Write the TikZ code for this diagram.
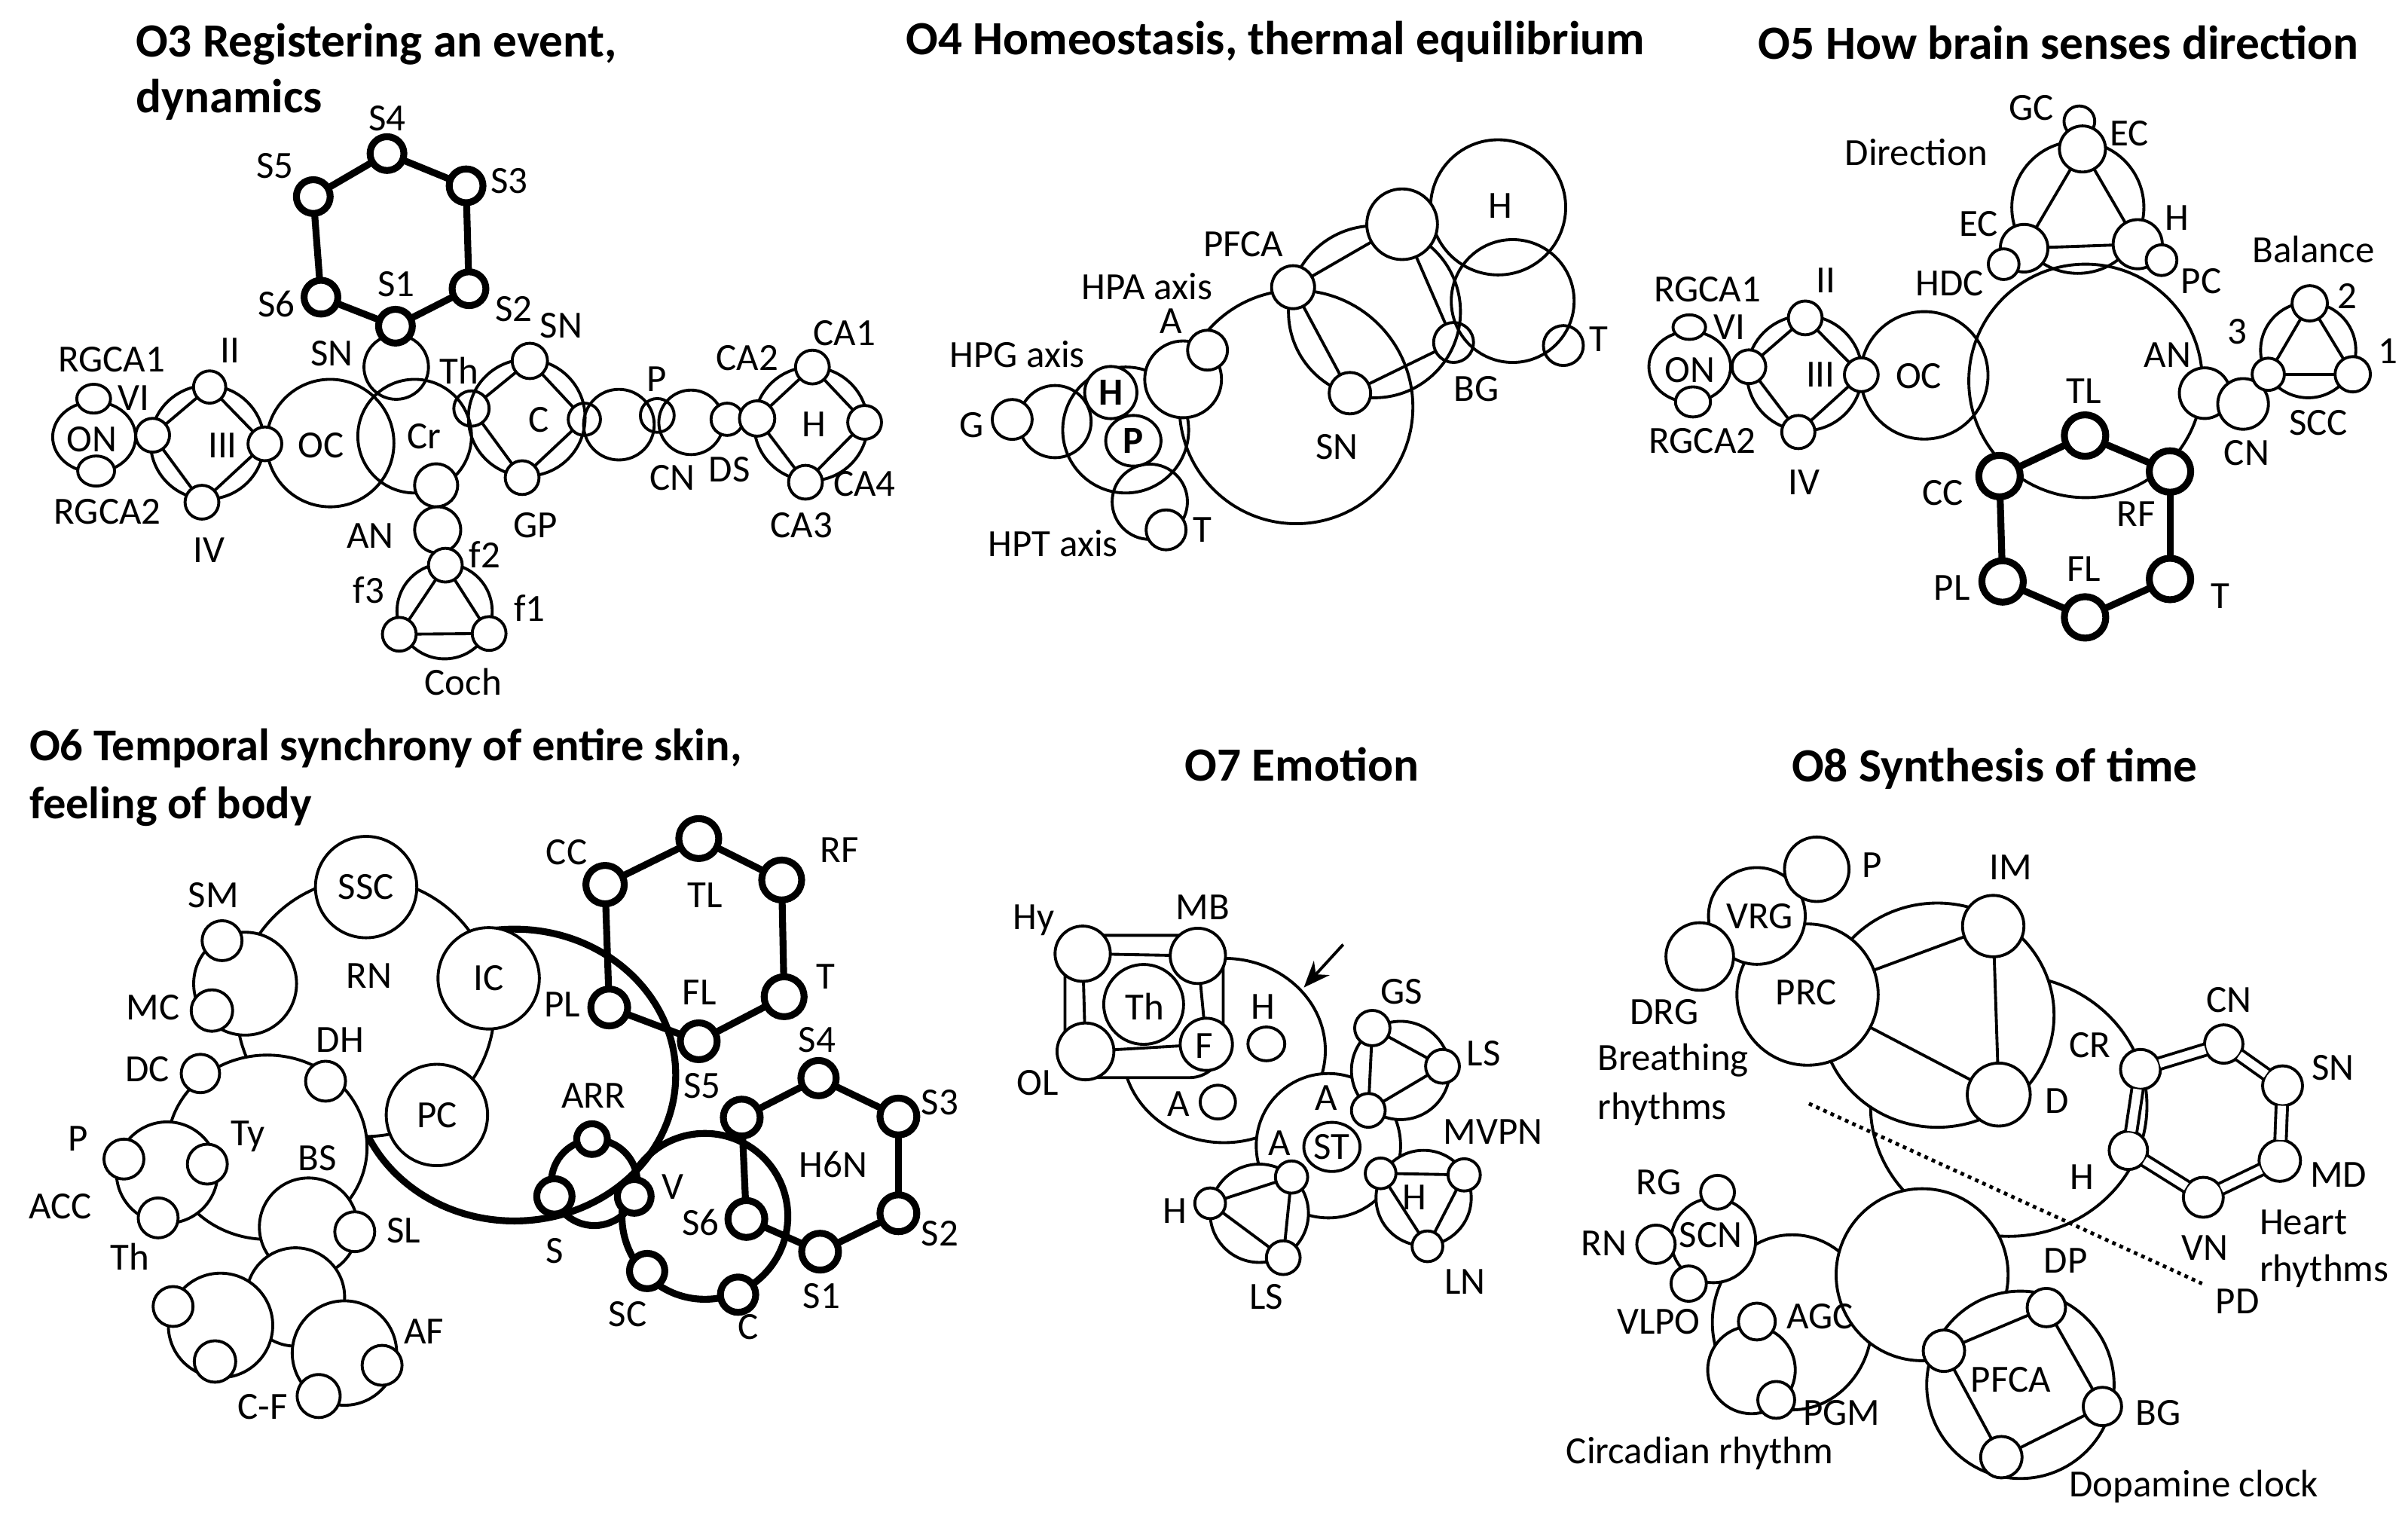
\documentclass[tikz,border=0pt]{standalone}
\usepackage{fontspec}
\setmainfont{Carlito}
\usetikzlibrary{shapes.geometric,arrows.meta}
\newdimen\ulen \ulen=0.20383mm
\tikzset{
  ln/.style={line width=1.1pt},
  bd/.style={line width=2.6pt},
  op/.style={fill=none},
  nd/.style={circle,draw,ln,fill=white,inner sep=0pt,outer sep=0pt},
  nde/.style={ellipse,draw,ln,fill=white,inner sep=0pt,outer sep=0pt},
  lab/.style={font=\fontsize{14.5}{16}\selectfont,inner sep=0pt},
  ttl/.style={font=\bfseries\fontsize{18}{21}\selectfont,inner sep=0pt},
  dbl/.style={ln,double,double distance=3.2pt},
}
\newcommand\Cn[5][]{\node[nd,minimum size={2*(#5)*\ulen},#1] (#2) at (#3,#4) {};}
\newcommand\En[6][]{\node[nde,minimum width={2*(#5)*\ulen},minimum height={2*(#6)*\ulen},#1] (#2) at (#3,#4) {};}
\newcounter{lbc}
\newcommand\Lb[4][]{\stepcounter{lbc}\node[lab,#1] (lb\arabic{lbc}) at (#2,#3) {#4};}
\newcommand\Ed[3][]{\draw[ln,#1] (#2) -- (#3);}
\begin{document}
\begin{tikzpicture}[x=0.20383mm,y=-0.20383mm]
\fill[white] (0,0) rectangle (1568,989);
\useasboundingbox (0,0) rectangle (1568,989);
% ================= O3
\node[ttl,anchor=west] (t3a) at (88,29) {O3 Registering an event,};
\node[ttl,anchor=west] (t3b) at (88,65) {dynamics};
\Cn[op]{o3oc}{215}{288.5}{41.5}
\Cn[op]{o3cr}{270}{284}{37}
\Cn[op]{o3sn}{258}{239}{21}
\Cn[op]{o3ra}{135}{288}{37}
\En[op]{o3on}{61.3}{284.5}{27}{23}
\Cn[op]{o3rc}{343}{272}{38}
\Cn[op]{o3em}{403}{276.5}{23}
\Cn[op]{o3cn}{450}{275}{21}
\Cn[op]{o3rh}{528}{276}{37}
\Cn[op]{o3rf}{289.5}{398}{31}
\Cn{o3an1}{284}{316}{14}
\Cn{o3an2}{285}{345}{15}
\En{o3ont}{61}{259.6}{11}{9.4}
\En{o3onb}{62.6}{306.7}{12}{9.8}
\Cn{o3vi}{99.4}{283.4}{11}
\Cn{o3ii}{136.5}{252}{10.5}
\Cn{o3iv}{131.5}{327}{11}
\Cn{o3iii}{172.5}{289}{11}
\Cn[op]{o3th}{307}{266}{11.5}
\Cn{o3csn}{345}{235}{11.5}
\Cn{o3gp}{340}{311}{11}
\Cn[op]{o3cc}{380.5}{273}{10.5}
\Cn[op]{o3p}{428}{270.5}{11}
\Cn{o3ds}{473.5}{273}{10.5}
\Cn{o3hl}{493}{272.5}{11.5}
\Cn{o3ca1}{529}{239}{11}
\Cn{o3ca3}{524.5}{314}{11}
\Cn{o3ca4}{563}{275}{11}
\Cn{o3f2}{290}{368}{11}
\Cn{o3f3}{260}{413}{11}
\Cn{o3f1}{318.5}{412.5}{11}
\Cn[bd]{o3s1}{257.5}{212.4}{11}
\Cn[bd]{o3s2}{305.4}{188}{11}
\Cn[bd]{o3s3}{303.5}{121}{11}
\Cn[bd]{o3s4}{252}{100}{11}
\Cn[bd]{o3s5}{204}{128}{11}
\Cn[bd]{o3s6}{209}{193.5}{11}
\Ed{o3vi}{o3ii}\Ed{o3ii}{o3iii}\Ed{o3iii}{o3iv}\Ed{o3iv}{o3vi}
\Ed{o3th}{o3csn}\Ed{o3csn}{o3cc}\Ed{o3cc}{o3gp}\Ed{o3gp}{o3th}
\Ed{o3hl}{o3ca1}\Ed{o3ca1}{o3ca4}\Ed{o3ca4}{o3ca3}\Ed{o3ca3}{o3hl}
\Ed{o3f2}{o3f3}\Ed{o3f2}{o3f1}\Ed{o3f3}{o3f1}
\Ed[bd]{o3s1}{o3s2}\Ed[bd]{o3s2}{o3s3}\Ed[bd]{o3s3}{o3s4}\Ed[bd]{o3s4}{o3s5}\Ed[bd]{o3s5}{o3s6}\Ed[bd]{o3s6}{o3s1}
\Lb{252}{77}{S4}\Lb{179}{108}{S5}\Lb{331.7}{118}{S3}\Lb{180}{198}{S6}\Lb{258}{185}{S1}\Lb{334.5}{201}{S2}
\Lb{216}{230}{SN}\Lb{298.8}{241.5}{Th}\Lb{365.5}{212}{SN}\Lb{150}{228}{II}\Lb{87}{259}{VI}
\Lb{72.8}{234}{RGCA1}\Lb{59.7}{286.2}{ON}\Lb{70}{333}{RGCA2}\Lb{145}{290}{III}\Lb{136}{358}{IV}
\Lb{209}{290}{OC}\Lb{276}{284}{Cr}\Lb{351}{273.5}{C}\Lb{348.6}{342}{GP}\Lb{427.4}{247}{P}
\Lb{437.8}{311}{CN}\Lb{475}{305.5}{DS}\Lb{486.6}{233}{CA2}\Lb{550}{217}{CA1}\Lb{530}{276.5}{H}
\Lb{522}{342}{CA3}\Lb{563}{315}{CA4}\Lb{241}{349}{AN}\Lb{315.7}{361}{f2}\Lb{240}{384}{f3}\Lb{344.8}{396}{f1}\Lb{301.6}{444}{Coch}
% ================= O4
\node[ttl] (t4) at (830.5,27) {O4 Homeostasis, thermal equilibrium};
\Cn[op]{o4sn}{844}{265}{76}
\Cn[op]{o4hp}{733}{280}{41}
\Cn[op]{o4gc}{687}{274.5}{23.5}
\Cn[op]{o4hpt}{748.7}{326.7}{24.5}
\Cn[op]{o4ring}{895}{203}{56}
\Cn[op]{o4H}{975.5}{135}{44}
\Cn[op]{o4tc}{985}{196}{40}
\Cn{o4ac}{770.4}{247}{25}
\Cn{o4a}{786.3}{228}{13}
\Cn{o4h}{723.3}{255.6}{17}
\En{o4p}{738}{287}{18}{16.5}
\Cn{o4g}{659.1}{273.1}{13}
\Cn{o4t2}{759.3}{345}{13}
\Cn{o4pf}{842}{187}{14}
\Cn{o4top}{913}{146}{23}
\Cn[op]{o4bg}{946.5}{223}{13}
\Cn{o4snb}{879}{256}{13.5}
\Cn[op]{o4t}{1018}{225}{13}
\Ed{o4pf}{o4top}\Ed{o4top}{o4bg}\Ed{o4bg}{o4snb}\Ed{o4snb}{o4pf}
\Lb{977}{134}{H}\Lb{1041}{221}{T}\Lb{961.3}{253}{BG}\Lb{809.5}{159}{PFCA}\Lb{870.5}{291}{SN}
\Lb{762.5}{209}{A}\Lb{746.9}{186.7}{HPA axis}\Lb{662.4}{230.7}{HPG axis}\Lb{632.6}{277}{G}
\Lb{782.9}{345}{T}\Lb{685.8}{354}{HPT axis}
\Lb[font=\bfseries\fontsize{14.5}{16}\selectfont]{723.3}{255.6}{H}
\Lb[font=\bfseries\fontsize{14.5}{16}\selectfont]{738}{287}{P}
% ================= O5
\node[ttl] (t5) at (1340.5,27.5) {O5 How brain senses direction};
\Cn[op]{o5big}{1358}{248}{76}
\Cn[op]{o5oc}{1253}{244.4}{41.5}
\Cn[op]{o5ring}{1175}{243}{37.5}
\En[op]{o5on}{1100.3}{238.8}{26.6}{23}
\Cn[op]{o5tri}{1353}{135}{43}
\Cn[op]{o5bal}{1503}{228}{31}
\Cn{o5gc}{1354}{79}{10}
\Cn{o5ect}{1356}{97}{15}
\Cn{o5ecl}{1318}{161.6}{15.5}
\Cn{o5hdc}{1304.7}{172}{10}
\Cn{o5h}{1392}{159}{16}
\Cn{o5pc}{1407.5}{169.4}{10}
\Cn{o5ii}{1175.5}{207}{11}
\Cn{o5iii}{1212}{244}{11}
\Cn{o5iv}{1171}{281.3}{10.8}
\Cn{o5vi}{1138.8}{238.8}{11}
\En{o5ont}{1100}{213}{10.6}{8}
\En{o5onb}{1102.4}{261.7}{11.4}{9.8}
\Cn{o5an}{1435.6}{256}{16.5}
\Cn{o5cn}{1460.6}{263}{16.5}
\Cn{o5n3}{1477}{243.7}{10.5}
\Cn{o5n2}{1504}{197.5}{11.5}
\Cn{o5n1}{1532}{243.7}{11.5}
\Cn[bd]{o5tl}{1357.7}{283.6}{13.5}
\Cn[bd]{o5cc}{1302}{310}{13.5}
\Cn[bd]{o5rf}{1413}{307}{13.5}
\Cn[bd]{o5pl}{1304}{378.6}{13.5}
\Cn[bd]{o5t}{1413}{377}{13.5}
\Cn[bd]{o5fl}{1357.7}{402}{13.5}
\Ed{o5ect}{o5ecl}\Ed{o5ect}{o5h}\Ed{o5ecl}{o5h}
\Ed{o5vi}{o5ii}\Ed{o5ii}{o5iii}\Ed{o5iii}{o5iv}\Ed{o5iv}{o5vi}
\Ed{o5n3}{o5n2}\Ed{o5n2}{o5n1}\Ed{o5n3}{o5n1}
\Ed[bd]{o5cc}{o5tl}\Ed[bd]{o5tl}{o5rf}\Ed[bd]{o5rf}{o5t}\Ed[bd]{o5t}{o5fl}\Ed[bd]{o5fl}{o5pl}\Ed[bd]{o5pl}{o5cc}
\Lb{1322.6}{70}{GC}\Lb{1386.5}{86.8}{EC}\Lb{1247.8}{99}{Direction}\Lb{1288.3}{146}{EC}\Lb{1269.6}{184.5}{HDC}
\Lb{1417.7}{141.8}{H}\Lb{1433.3}{183}{PC}\Lb{1249.4}{245}{OC}\Lb{1189}{182.7}{II}\Lb{1185.5}{243.7}{III}
\Lb{1174.6}{314}{IV}\Lb{1126}{213}{VI}\Lb{1100.3}{241}{ON}\Lb{1111.8}{188.5}{RGCA1}\Lb{1108.5}{287}{RGCA2}
\Lb{1411.5}{231}{AN}\Lb{1463}{294.7}{CN}\Lb{1456.7}{216}{3}\Lb{1528.4}{192.8}{2}\Lb{1554.8}{228.6}{1}
\Lb{1506.5}{162.5}{Balance}\Lb{1509.6}{275.4}{SCC}\Lb{1357}{254.7}{TL}\Lb{1265}{321}{CC}\Lb{1391}{334.6}{RF}
\Lb{1271}{382.8}{PL}\Lb{1445.7}{388.3}{T}\Lb{1357}{370.4}{FL}
% ================= O6
\node[ttl,anchor=west,font=\bfseries\fontsize{17.2}{20}\selectfont] (t6a) at (18.8,487) {O6 Temporal synchrony of entire skin,};
\node[ttl,anchor=west,font=\bfseries\fontsize{17.2}{20}\selectfont] (t6b) at (18.8,525) {feeling of body};
\En[op,bd]{o6arc}{335}{700}{105}{95}
\Cn{o6rn}{238}{656}{84}
\Cn{o6ssc}{238.4}{577.6}{33}
\Cn{o6ic}{318.2}{637}{33}
\Cn{o6pc}{284.5}{726}{33}
\Cn{o6smc}{159.6}{640.5}{33.5}
\Cn{o6sm}{144.6}{612.5}{13}
\Cn{o6mc}{138}{658}{13.5}
\En{o6bs}{174}{747}{65}{60}
\Cn{o6dc}{130.5}{699}{12.5}
\Cn{o6dh}{212}{704}{13}
\Cn{o6acc}{108.8}{763.5}{33}
\Cn{o6p}{80.7}{754.7}{13}
\Cn{o6ty}{135}{758}{13}
\Cn{o6th}{103}{793}{13}
\Cn{o6slc}{200.9}{799}{32}
\Cn{o6mid}{192.4}{844.5}{32}
\Cn{o6sl}{231}{802}{13}
\Cn{o6lb}{143.6}{863}{34}
\Cn{o6lb1}{112.7}{850.7}{13}
\Cn{o6lb2}{140}{886.5}{13.5}
\Cn{o6afc}{224.3}{881}{34}
\Cn{o6af}{248.8}{889}{13}
\Cn{o6cf}{207.5}{909}{14}
\Cn[op,bd]{o6arr}{387}{770}{28}
\Cn[op,bd]{o6s6r}{459}{792}{54}
\Cn[bd]{o6an}{385.5}{741.7}{10}
\Cn[bd]{o6s}{361}{779}{11.5}
\Cn[bd]{o6v}{413}{779}{11}
\Cn[bd]{o6sc}{421.4}{827.6}{11.5}
\Cn[bd]{o6c}{480.6}{843}{11.5}
\Cn[bd]{o6hn}{483}{727.7}{12}
\Cn[bd]{o6s4}{533}{702}{11.5}
\Cn[bd]{o6s3}{585}{727}{12}
\Cn[bd]{o6s2}{585}{790}{12}
\Cn[bd]{o6s1}{534}{815}{12}
\Cn[bd]{o6s6}{486}{793.7}{12}
\Cn[bd]{o6cc}{394}{576}{12.5}
\Cn[bd]{o6tl}{455}{546}{13}
\Cn[bd]{o6rf}{509}{573}{13}
\Cn[bd]{o6t}{510.6}{649}{13}
\Cn[bd]{o6fl}{455}{678}{12}
\Cn[bd]{o6pl}{396.7}{656}{12}
\Ed[bd]{o6hn}{o6s4}\Ed[bd]{o6s4}{o6s3}\Ed[bd]{o6s3}{o6s2}\Ed[bd]{o6s2}{o6s1}\Ed[bd]{o6s1}{o6s6}\Ed[bd]{o6s6}{o6hn}
\Ed[bd]{o6cc}{o6tl}\Ed[bd]{o6tl}{o6rf}\Ed[bd]{o6rf}{o6t}\Ed[bd]{o6t}{o6fl}\Ed[bd]{o6fl}{o6pl}\Ed[bd]{o6pl}{o6cc}
\Lb{238.4}{577.6}{SSC}\Lb{318.2}{637}{IC}\Lb{284.5}{726}{PC}\Lb{240.3}{635.2}{RN}
\Lb{139}{583}{SM}\Lb{99.5}{656}{MC}\Lb{95.8}{696.3}{DC}\Lb{221.5}{677}{DH}\Lb{50.7}{741.6}{P}
\Lb{161.5}{740}{Ty}\Lb{39.4}{785.3}{ACC}\Lb{84.5}{818.4}{Th}\Lb{206.5}{754}{BS}\Lb{262.8}{801}{SL}
\Lb{276}{867}{AF}\Lb{170.9}{916}{C-F}
\Lb{369}{555}{CC}\Lb{459}{583}{TL}\Lb{546.5}{553.5}{RF}\Lb{366}{654}{PL}\Lb{455.3}{646}{FL}
\Lb{537.8}{636}{T}\Lb{457.3}{707}{S5}\Lb{386.5}{713.6}{ARR}\Lb{437.9}{773}{V}\Lb{361.2}{814.3}{S}
\Lb{456.3}{796}{S6}\Lb{408.8}{855.6}{SC}\Lb{487.3}{863.8}{C}\Lb{532}{677.3}{S4}\Lb{534.9}{844}{S1}
\Lb{542.6}{758}{H6N}\Lb{612}{718}{S3}\Lb{612}{803}{S2}
% ================= O7
\node[ttl] (t7) at (847.7,497.9) {O7 Emotion};
\En{o7h}{797}{684}{66}{60}
\node[draw,ln,fill=white,rounded corners=4.5mm,inner sep=0pt,minimum width={103*\ulen},minimum height={92.7*\ulen}] (o7sq) at (745,655.35) {};
\Cn{o7th}{744.7}{654}{26}
\Cn{o7hy}{705}{621}{18}
\Cn{o7mb}{780}{622.4}{18}
\Cn{o7ol}{706.8}{684.6}{18.5}
\Cn{o7f}{785.5}{680}{17}
\Ed{o7hy}{o7mb}\Ed{o7mb}{o7f}\Ed{o7f}{o7ol}\Ed{o7ol}{o7hy}
\En{o7hs}{824.6}{679.7}{12}{11}
\En{o7as}{793}{717.6}{11.5}{11}
\Cn{o7st}{865}{746}{47}
\En{o7ste}{867.3}{746.8}{18.3}{16}
\Cn{o7gr}{912}{697}{32}
\Cn{o7gs}{893.6}{669.4}{11.5}
\Cn{o7ls}{939.3}{694.3}{11}
\Cn{o7gb}{891}{723}{11}
\Ed{o7gs}{o7ls}\Ed{o7gs}{o7gb}\Ed{o7gb}{o7ls}
\Cn{o7lr}{820}{790}{32}
\Cn{o7lh}{788}{783.5}{10}
\Cn{o7lt}{841}{766.4}{10.5}
\Cn{o7ll}{835.6}{818.9}{11}
\Ed{o7lh}{o7lt}\Ed{o7lt}{o7ll}\Ed{o7lh}{o7ll}
\Cn{o7rr}{927}{780}{31}
\Cn{o7rl}{899}{764}{10}
\Cn{o7rm}{953.4}{765}{10.5}
\Cn{o7rn}{929.5}{811.5}{10}
\Ed{o7rl}{o7rm}\Ed{o7rl}{o7rn}\Ed{o7rm}{o7rn}
\coordinate (o7a1) at (874.6,615);
\coordinate (o7a2) at (849,643);
\draw[ln,-{Stealth[length=10pt,width=8pt]}] (o7a1) -- (o7a2);
\Lb{673.3}{599}{Hy}\Lb{783.1}{590.6}{MB}\Lb{675.7}{705.3}{OL}\Lb{745.3}{655.3}{Th}\Lb{784.3}{681}{F}
\Lb{822.2}{655.3}{H}\Lb{767.2}{718.8}{A}\Lb{912.5}{645.5}{GS}\Lb{966.2}{685.8}{LS}\Lb{972.3}{737}{MVPN}
\Lb{863.7}{715}{A}\Lb{833}{744.4}{A}\Lb{867.3}{746.8}{ST}\Lb{764.8}{788.3}{H}\Lb{824.6}{844.5}{LS}
\Lb{921}{779.8}{H}\Lb{954}{834.7}{LN}
% ================= O8
\node[ttl] (t8) at (1298.75,500.7) {O8 Synthesis of time};
\En{o8cr}{1308}{720}{90}{85}
\En{o8imd}{1261.5}{661}{76}{73}
\En{o8agc}{1167}{861}{52}{57}
\Cn{o8big}{1251.6}{830}{56}
\Cn{o8scn}{1115.7}{807.7}{27.5}
\Cn{o8rg}{1118.4}{776.3}{11}
\Cn{o8rn}{1078.3}{810.2}{12.5}
\Cn{o8vl}{1099.6}{835.8}{11.5}
\Cn{o8pgc}{1140.5}{892}{28.5}
\Cn{o8pgs}{1144}{860.5}{12}
\Cn{o8pgm}{1156.6}{911.5}{12}
\Cn{o8prc}{1177}{647.6}{46}
\Cn{o8vrg}{1144}{596.4}{31.5}
\Cn{o8drg}{1106.8}{622.8}{22}
\Cn{o8p}{1183}{566}{21}
\Cn{o8im}{1297.9}{603}{20}
\Cn{o8d}{1301.5}{712.7}{20.5}
\Ed{o8prc}{o8im}\Ed{o8prc}{o8d}\Ed{o8im}{o8d}
\Cn{o8ht}{1393.8}{696.3}{13}
\Cn{o8cn}{1448}{679.8}{12.5}
\Cn{o8sn}{1486.3}{707}{13}
\Cn{o8md}{1484.5}{755.7}{13.5}
\Cn{o8vn}{1434.7}{779.6}{13}
\Cn{o8h}{1385.9}{749}{12.5}
\Ed[dbl]{o8ht}{o8cn}\Ed[dbl]{o8cn}{o8sn}\Ed[dbl]{o8sn}{o8md}\Ed[dbl]{o8md}{o8vn}\Ed[dbl]{o8vn}{o8h}\Ed[dbl]{o8h}{o8ht}
\Cn{o8pfr}{1315.6}{901.7}{61}
\Cn{o8dp}{1332.5}{851.4}{12.5}
\Cn{o8pl}{1265.8}{879.5}{13.5}
\Cn{o8bg}{1369}{915.8}{12.5}
\Cn{o8pb}{1303.2}{948.8}{13.5}
\Ed{o8dp}{o8pl}\Ed{o8dp}{o8bg}\Ed{o8bg}{o8pb}\Ed{o8pb}{o8pl}
\coordinate (o8pd1) at (1177.9,718.6);
\coordinate (o8pd2) at (1433.9,835.8);
\draw[line width=1.4pt,dash pattern=on 1.4pt off 1.6pt] (o8pd1) -- (o8pd2);
\Lb{1218.8}{563.4}{P}\Lb{1145.9}{596.4}{VRG}\Lb{1176.1}{646}{PRC}\Lb{1309.4}{565}{IM}\Lb{1339.6}{717}{D}
\Lb{1083.7}{659}{DRG}\Lb[anchor=west]{1040}{690.5}{Breathing}\Lb[anchor=west]{1040}{721.9}{rhythms}
\Lb{1361}{680.6}{CR}\Lb{1451.6}{650.9}{CN}\Lb{1519.2}{695.5}{SN}\Lb{1522.7}{764.8}{MD}\Lb{1355.6}{766.4}{H}
\Lb{1435.6}{812.7}{VN}\Lb[anchor=west]{1471}{796}{Heart}\Lb[anchor=west]{1471}{827.5}{rhythms}\Lb{1457}{847.3}{PD}
\Lb{1345}{821}{DP}\Lb{1080.1}{769.7}{RG}\Lb{1044.6}{809.4}{RN}\Lb{1113.9}{804.4}{SCN}\Lb{1080.1}{860.5}{VLPO}
\Lb{1185}{857}{AGC}\Lb{1199.2}{920}{PGM}\Lb{1309.4}{898.5}{PFCA}\Lb{1405.4}{920}{BG}
\Lb{1106.8}{946.3}{Circadian rhythm}\Lb{1428.5}{967.8}{Dopamine clock}
\end{tikzpicture}
\end{document}
